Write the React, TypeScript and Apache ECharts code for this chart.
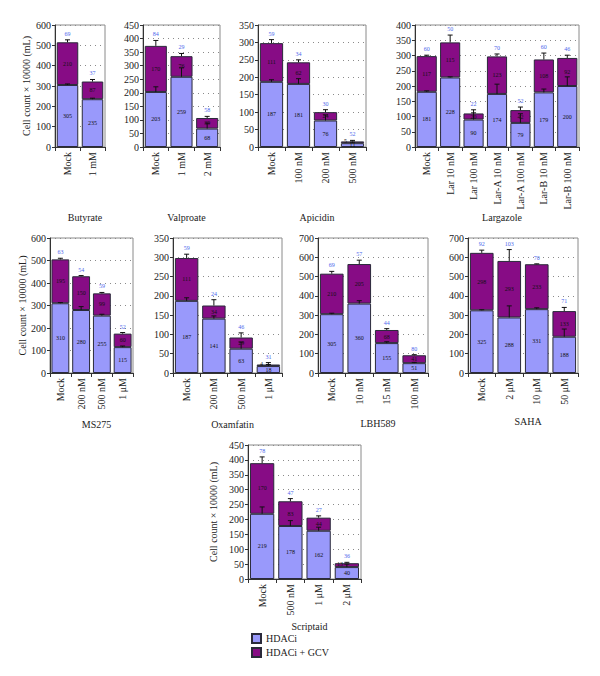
import React, { useEffect, useRef } from "react";
import * as echarts from "echarts";

const FONT = '"Liberation Serif", "DejaVu Serif", serif';
const BLUE = "#9999fb";
const PURPLE = "#870c85";

// Butyrate
const butyrateCats = ["Mock", "1 mM"];
const butyrateHdaci = [305, 235];
const butyrateGcv = [210, 87];
const butyrateHdaciErr = [5, 5];
const butyrateGcvErr = [12, 10];
const butyratePct = [69, 37];

// Valproate
const valproateCats = ["Mock", "1 mM", "2 mM"];
const valproateHdaci = [203, 259, 68];
const valproateGcv = [170, 76, 39];
const valproateHdaciErr = [19, 33, 20];
const valproateGcvErr = [20, 10, 6];
const valproatePct = [84, 29, 58];

// Apicidin
const apicidinCats = ["Mock", "100 nM", "200 nM", "500 nM"];
const apicidinHdaci = [187, 181, 76, 11];
const apicidinGcv = [111, 62, 24, 5];
const apicidinHdaciErr = [6, 15, 16, 3];
const apicidinGcvErr = [10, 7, 7, 3];
const apicidinPct = [59, 34, 30, 52];

// Largazole
const largazoleCats = ["Mock", "Lar 10 nM", "Lar 100 nM", "Lar-A 10 nM", "Lar-A 100 nM", "Lar-B 10 nM", "Lar-B 100 nM"];
const largazoleHdaci = [181, 228, 90, 174, 79, 179, 200];
const largazoleGcv = [117, 115, 20, 123, 42, 108, 92];
const largazoleHdaciErr = [3, 2, 22, 32, 30, 11, 30];
const largazoleGcvErr = [3, 24, 12, 8, 10, 21, 9];
const largazolePct = [60, 50, 22, 70, 52, 60, 46];

// MS275
const ms275Cats = ["Mock", "200 nM", "500 nM", "1 μM"];
const ms275Hdaci = [310, 280, 255, 115];
const ms275Gcv = [195, 150, 99, 60];
const ms275HdaciErr = [3, 15, 6, 5];
const ms275GcvErr = [5, 3, 4, 5];
const ms275Pct = [63, 54, 59, 52];

// Oxamfatin
const oxamfatinCats = ["Mock", "200 nM", "500 nM", "1 μM"];
const oxamfatinHdaci = [187, 141, 63, 18];
const oxamfatinGcv = [111, 34, 29, 4];
const oxamfatinHdaciErr = [8, 7, 17, 4];
const oxamfatinGcvErr = [10, 15, 12, 5];
const oxamfatinPct = [59, 24, 46, 31];

// LBH589
const lbhCats = ["Mock", "10 nM", "15 nM", "100 nM"];
const lbhHdaci = [305, 360, 155, 51];
const lbhGcv = [210, 205, 68, 41];
const lbhHdaciErr = [5, 15, 7, 4];
const lbhGcvErr = [12, 20, 7, 3];
const lbhPct = [69, 57, 44, 80];

// SAHA
const sahaCats = ["Mock", "2 μM", "10 μM", "50 μM"];
const sahaHdaci = [325, 288, 331, 188];
const sahaGcv = [298, 293, 233, 133];
const sahaHdaciErr = [3, 60, 7, 40];
const sahaGcvErr = [14, 59, 2, 19];
const sahaPct = [92, 103, 70, 71];

// Scriptaid
const scriptaidCats = ["Mock", "500 nM", "1 μM", "2 μM"];
const scriptaidHdaci = [219, 178, 162, 40];
const scriptaidGcv = [170, 83, 44, 13];
const scriptaidHdaciErr = [23, 18, 12, 10];
const scriptaidGcvErr = [21, 9, 6, 3];
const scriptaidPct = [78, 47, 27, 36];

const Y_NAME = "Cell count × 10000 (mL)";

const panels = [
  { title: "Butyrate", cats: butyrateCats, h: butyrateHdaci, g: butyrateGcv, he: butyrateHdaciErr, ge: butyrateGcvErr, pct: butyratePct, max: 600, step: 100, box: [55, 25, 50, 122], titleY: 213, yName: true, nameGap: 24 },
  { title: "Valproate", cats: valproateCats, h: valproateHdaci, g: valproateGcv, he: valproateHdaciErr, ge: valproateGcvErr, pct: valproatePct, max: 450, step: 50, box: [143, 25, 77, 122], titleY: 213 },
  { title: "Apicidin", cats: apicidinCats, h: apicidinHdaci, g: apicidinGcv, he: apicidinHdaciErr, ge: apicidinGcvErr, pct: apicidinPct, max: 350, step: 50, box: [258, 25, 108, 122], titleY: 213 },
  { title: "Largazole", cats: largazoleCats, h: largazoleHdaci, g: largazoleGcv, he: largazoleHdaciErr, ge: largazoleGcvErr, pct: largazolePct, max: 400, step: 50, box: [415, 25, 164, 122], titleY: 213 },
  { title: "MS275", cats: ms275Cats, h: ms275Hdaci, g: ms275Gcv, he: ms275HdaciErr, ge: ms275GcvErr, pct: ms275Pct, max: 600, step: 100, box: [50, 238, 83, 135], titleY: 420, yName: true, nameGap: 20 },
  { title: "Oxamfatin", cats: oxamfatinCats, h: oxamfatinHdaci, g: oxamfatinGcv, he: oxamfatinHdaciErr, ge: oxamfatinGcvErr, pct: oxamfatinPct, max: 350, step: 50, box: [173, 238, 109, 135], titleY: 420 },
  { title: "LBH589", cats: lbhCats, h: lbhHdaci, g: lbhGcv, he: lbhHdaciErr, ge: lbhGcvErr, pct: lbhPct, max: 700, step: 100, box: [318, 238, 110, 135], titleY: 419 },
  { title: "SAHA", cats: sahaCats, h: sahaHdaci, g: sahaGcv, he: sahaHdaciErr, ge: sahaGcvErr, pct: sahaPct, max: 700, step: 100, box: [468, 238, 110, 135], titleY: 417 },
  { title: "Scriptaid", cats: scriptaidCats, h: scriptaidHdaci, g: scriptaidGcv, he: scriptaidHdaciErr, ge: scriptaidGcvErr, pct: scriptaidPct, max: 450, step: 50, box: [248, 445, 113, 134], titleY: 622, yName: true, nameGap: 30 },
];

export default function App() {
  const ref = useRef<HTMLDivElement>(null);
  useEffect(() => {
    if (!ref.current) return;
    const chart = echarts.init(ref.current, undefined, { renderer: "svg" });
    const grids: any[] = [];
    const xAxes: any[] = [];
    const yAxes: any[] = [];
    const titles: any[] = [];
    const series: any[] = [];
    panels.forEach((p: any, i) => {
      const [l, t, w, h] = p.box;
      grids.push({ left: l, top: t, width: w, height: h, show: true, borderColor: "#8a8a8a", borderWidth: 1, backgroundColor: "transparent" });
      xAxes.push({
        type: "category", gridIndex: i, data: p.cats,
        axisLine: { lineStyle: { color: "#333", width: 1 } },
        axisTick: { show: true, length: 4, lineStyle: { color: "#333" } },
        axisLabel: { rotate: 90, interval: 0, fontSize: 10, fontFamily: FONT, color: "#222", margin: 5 },
      });
      yAxes.push({
        type: "value", gridIndex: i, min: 0, max: p.max, interval: p.step,
        name: p.yName ? Y_NAME : "", nameLocation: "middle", nameRotate: 90, nameGap: p.nameGap || 20,
        nameTextStyle: { fontSize: 10, fontFamily: FONT, color: "#222" },
        axisLine: { show: true, lineStyle: { color: "#333", width: 1 } },
        axisTick: { show: true, length: 3, lineStyle: { color: "#333" } },
        axisLabel: { fontSize: 10, fontFamily: FONT, color: "#222", margin: 4 },
        splitLine: { show: true, lineStyle: { color: "#8a8a8a", type: [1, 4], width: 1 } },
      });
      titles.push({ text: p.title, left: l + w / 2, top: p.titleY - 6, textAlign: "center", textStyle: { fontSize: 10, fontWeight: "normal", fontFamily: FONT, color: "#222" } });
      const lbl = { show: true, position: "inside", fontSize: 6, fontFamily: FONT, color: "#111" };
      const pxPer = h / p.max;
      const gcvData = p.g.map((v: number) => (v * pxPer < 5 ? { value: v, label: { offset: [-7, -1] } } : v));
      series.push({
        type: "bar", name: "HDACi", stack: "s" + i, xAxisIndex: i, yAxisIndex: i, data: p.h,
        barCategoryGap: "14%",
        itemStyle: { color: BLUE, borderColor: "#2a2a3a", borderWidth: 1 }, label: lbl,
      });
      series.push({
        type: "bar", name: "HDACi + GCV", stack: "s" + i, xAxisIndex: i, yAxisIndex: i, data: gcvData,
        barCategoryGap: "14%",
        itemStyle: { color: PURPLE, borderColor: "#2a2a3a", borderWidth: 1 }, label: lbl,
      });
      const errData = p.cats.map((_: string, k: number) => [k, p.h[k], p.he[k], p.h[k] + p.g[k], p.ge[k], p.pct[k]]);
      series.push({
        type: "custom", xAxisIndex: i, yAxisIndex: i, data: errData, z: 10,
        encode: { x: 0, y: 3 },
        renderItem: (params: any, api: any) => {
          const x = api.value(0), b = api.value(1), be = api.value(2), tt = api.value(3), te = api.value(4), pc = api.value(5);
          const a0 = api.coord([x, b]), a1 = api.coord([x, b + be]);
          const c0 = api.coord([x, tt]), c1 = api.coord([x, tt + te]);
          const st = { stroke: "#111", lineWidth: 1 };
          return {
            type: "group",
            children: [
              { type: "line", shape: { x1: a0[0], y1: a0[1], x2: a1[0], y2: a1[1] }, style: st },
              { type: "line", shape: { x1: a1[0] - 2.5, y1: a1[1], x2: a1[0] + 2.5, y2: a1[1] }, style: st },
              { type: "line", shape: { x1: c0[0], y1: c0[1], x2: c1[0], y2: c1[1] }, style: st },
              { type: "line", shape: { x1: c1[0] - 2.5, y1: c1[1], x2: c1[0] + 2.5, y2: c1[1] }, style: st },
              { type: "text", x: c1[0], y: c1[1] - 3, style: { text: String(pc), fill: "#4d68ec", fontSize: 6, fontFamily: FONT, align: "center", verticalAlign: "bottom" } },
            ],
          };
        },
      });
    });
    chart.setOption({
      animation: false,
      backgroundColor: "#fff",
      title: titles,
      grid: grids,
      xAxis: xAxes,
      yAxis: yAxes,
      legend: {
        data: ["HDACi", "HDACi + GCV"], orient: "vertical", left: 246, top: 628,
        itemWidth: 9, itemHeight: 9, itemGap: 3, icon: "rect",
        textStyle: { fontSize: 10, fontFamily: FONT, color: "#222" },
      },
      series,
    });
    return () => chart.dispose();
  }, []);
  return <div ref={ref} style={{ position: "fixed", left: 0, top: 0, width: 600, height: 676 }} />;
}
